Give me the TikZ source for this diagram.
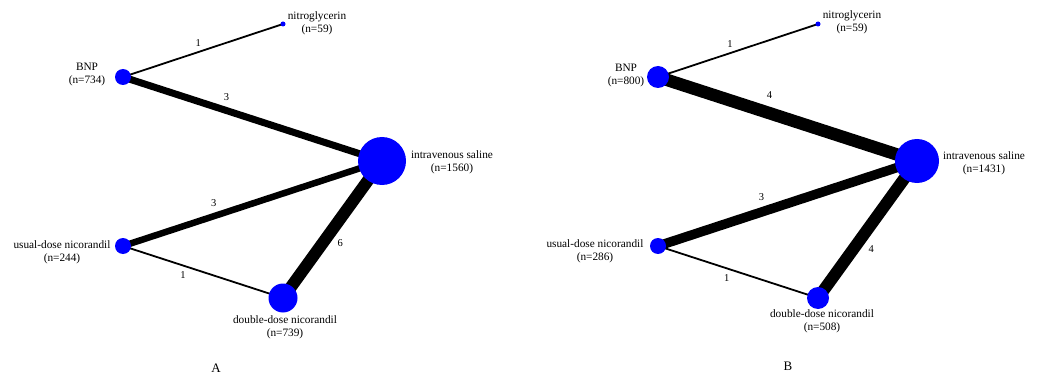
\documentclass[tikz,border=0pt]{standalone}
\usepackage{fontspec}
\setmainfont{Liberation Serif}
\usetikzlibrary{backgrounds}

\begin{document}
\begin{tikzpicture}[x=1pt,y=-1pt]
		\tikzset{vertex/.style = {shape=circle,fill=blue,inner sep=0pt,minimum size=#1}}
		\tikzset{edge/.style = {draw=black,line width=#1}}
		\tikzset{lab/.style = {align=center,inner sep=0pt,font=\fontsize{11.3}{13}\selectfont}}
		\tikzset{num/.style = {inner sep=1pt,font=\fontsize{10.5}{12}\selectfont}}
		\useasboundingbox (0,0) rectangle (1039,377);
		% vertices A
		\node[vertex=5pt] (nitA) at (283, 24) {};
		\node[vertex=16pt] (bnpA) at (123, 77) {};
		\node[vertex=48pt] (salA) at (382, 161) {};
		\node[vertex=16pt] (usuA) at (123, 246) {};
		\node[vertex=29pt] (dblA) at (283, 298) {};
		% labels A
		\node[lab] (nitAl) at (317, 23) {nitroglycerin\\(n=59)};
		\node[lab] (bnpAl) at (87, 75) {BNP\\(n=734)};
		\node[lab] (salAl) at (452, 162) {intravenous saline\\(n=1560)};
		\node[lab] (usuAl) at (62, 252) {usual-dose nicorandil\\(n=244)};
		\node[lab] (dblAl) at (285, 327) {double-dose nicorandil\\(n=739)};
		\node[lab,font=\fontsize{13}{15}\selectfont] (capA) at (216, 368) {A};
		% vertices B
		\node[vertex=5pt] (nitB) at (818, 24) {};
		\node[vertex=22pt] (bnpB) at (658, 77) {};
		\node[vertex=44pt] (salB) at (917, 161) {};
		\node[vertex=16pt] (usuB) at (658, 246) {};
		\node[vertex=22pt] (dblB) at (818, 298) {};
		% labels B
		\node[lab] (nitBl) at (852, 22) {nitroglycerin\\(n=59)};
		\node[lab] (bnpBl) at (626, 76) {BNP\\(n=800)};
		\node[lab] (salBl) at (984, 163) {intravenous saline\\(n=1431)};
		\node[lab] (usuBl) at (595, 251) {usual-dose nicorandil\\(n=286)};
		\node[lab] (dblBl) at (822, 321) {double-dose nicorandil\\(n=508)};
		\node[lab,font=\fontsize{13}{15}\selectfont] (capB) at (788, 366) {B};
		% edges
		\begin{scope}[on background layer]
		\path (bnpA.center) edge[edge=1.8pt] node[num,pos=.47,above=4pt] {1} (nitA.center);
		\path (bnpA.center) edge[edge=7pt] node[num,pos=.4,above=5pt] {3} (salA.center);
		\path (usuA.center) edge[edge=6.5pt] node[num,pos=.35,above=5pt] {3} (salA.center);
		\path (dblA.center) edge[edge=12pt] node[num,pos=.4,right=8pt] {6} (salA.center);
		\path (usuA.center) edge[edge=1.8pt] node[num,pos=.375,below=4pt] {1} (dblA.center);
		\path (bnpB.center) edge[edge=1.8pt] node[num,pos=.45,above=4pt] {1} (nitB.center);
		\path (bnpB.center) edge[edge=12.5pt] node[num,pos=.43,above=7pt] {4} (salB.center);
		\path (usuB.center) edge[edge=9.5pt] node[num,pos=.4,above=6pt] {3} (salB.center);
		\path (dblB.center) edge[edge=12pt] node[num,pos=.36,right=8pt] {4} (salB.center);
		\path (usuB.center) edge[edge=1.8pt] node[num,pos=.43,below=4pt] {1} (dblB.center);
		\end{scope}
\end{tikzpicture}
\end{document}
